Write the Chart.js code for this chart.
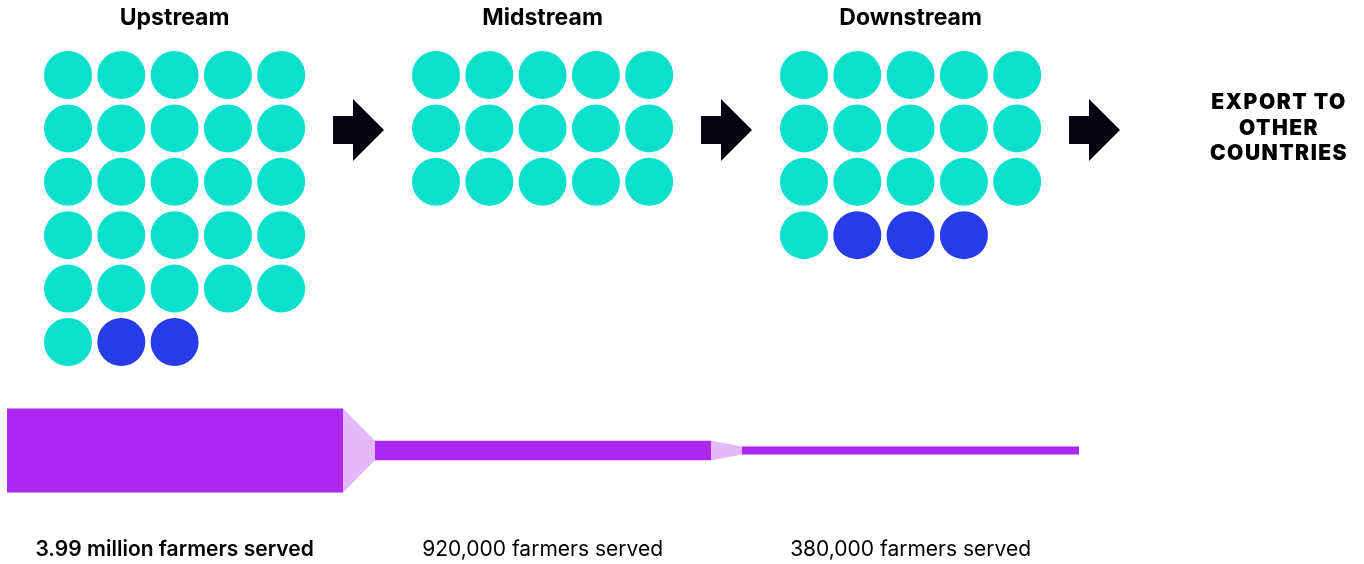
<!DOCTYPE html>
<html lang="en">
<head>
<meta charset="UTF-8">
<title>Farmers served along the value chain</title>
<script src="https://cdn.jsdelivr.net/npm/chart.js"></script>
<style>
  body { margin: 0; padding: 0; background: #fff; }
  #wrap { width: 1364px; height: 564px; }
</style>
</head>
<body>
<div id="wrap"><canvas id="flowChart" width="1364" height="564"></canvas></div>
<script>
// stages of the chain, dot counts per stage, farmers served (millions)
const stages = ['Upstream', 'Midstream', 'Downstream'];
const tealDots = [26, 15, 16];
const blueDots = [2, 0, 3];
const farmers = [3.99, 0.92, 0.38];
const farmerLabels = ['3.99 million farmers served', '920,000 farmers served', '380,000 farmers served'];
const exportLines = ['EXPORT TO', 'OTHER', 'COUNTRIES'];

const TEAL = '#0be0cc';
const BLUE = '#283be8';
const PURPLE = '#ac28f2';
const LILAC = '#e4b8fb';
const INK = '#05030f';

// layout (pixels)
const groupX = [68, 436, 804];
const colGap = 53.3, rowGap = 53.4, firstRow = 75, perRow = 5;
const barSpans = [[7, 343], [375, 711], [742, 1079]];
const flowCenter = 450.5, pxPerMillion = 21;

function dotPoints(g, from, to) {
  const pts = [];
  for (let i = from; i < to; i++) {
    pts.push({ x: groupX[g] + (i % perRow) * colGap, y: firstRow + Math.floor(i / perRow) * rowGap });
  }
  return pts;
}

const datasets = [];
stages.forEach((s, g) => {
  datasets.push({ label: s, data: dotPoints(g, 0, tealDots[g]), backgroundColor: TEAL });
  if (blueDots[g]) {
    datasets.push({ label: s + ' (other)', data: dotPoints(g, tealDots[g], tealDots[g] + blueDots[g]), backgroundColor: BLUE });
  }
});
datasets.forEach(d => Object.assign(d, { pointRadius: 24, pointHoverRadius: 24, borderWidth: 0, showLine: false }));

// flow band: each piece is a top edge filled down to its bottom edge
function band(x0, v0, x1, v1, color) {
  const base = { type: 'line', yAxisID: 'yFlow', showLine: true, pointRadius: 0, borderWidth: 0, tension: 0 };
  datasets.push(Object.assign({}, base, { data: [{ x: x0, y: v0 / 2 }, { x: x1, y: v1 / 2 }], fill: '+1', backgroundColor: color }));
  datasets.push(Object.assign({}, base, { data: [{ x: x0, y: -v0 / 2 }, { x: x1, y: -v1 / 2 }], fill: false }));
}
farmers.forEach((v, i) => {
  band(barSpans[i][0], v, barSpans[i][1], v, PURPLE);
  if (i < farmers.length - 1) band(barSpans[i][1], v, barSpans[i + 1][0], farmers[i + 1], LILAC);
});

const textLayer = {
  id: 'textLayer',
  afterDatasetsDraw(chart) {
    const ctx = chart.ctx;
    const xs = chart.scales.x, ys = chart.scales.y;
    const mid = g => groupX[g] + 2 * colGap;
    ctx.save();
    ctx.fillStyle = '#000';
    ctx.textAlign = 'center';
    ctx.textBaseline = 'middle';
    ctx.font = 'bold 23px Inter';
    stages.forEach((s, g) => ctx.fillText(s, xs.getPixelForValue(mid(g)), ys.getPixelForValue(18)));

    farmerLabels.forEach((t, g) => {
      ctx.font = (g === 0 ? '600 ' : '400 ') + '21px Inter';
      ctx.fillText(t, xs.getPixelForValue(mid(g)), ys.getPixelForValue(550));
    });

    ctx.font = '900 21px Inter';
    ctx.letterSpacing = '1.5px';
    exportLines.forEach((t, i) => ctx.fillText(t, xs.getPixelForValue(1279), ys.getPixelForValue(103 + i * 25.5)));
    ctx.letterSpacing = '0px';

    // arrows between stages
    ctx.fillStyle = INK;
    [333, 701, 1069].forEach(a => {
      const p = v => xs.getPixelForValue(a + v);
      ctx.beginPath();
      ctx.moveTo(p(0), ys.getPixelForValue(116));
      ctx.lineTo(p(20), ys.getPixelForValue(116));
      ctx.lineTo(p(20), ys.getPixelForValue(99));
      ctx.lineTo(p(51), ys.getPixelForValue(130));
      ctx.lineTo(p(20), ys.getPixelForValue(161));
      ctx.lineTo(p(20), ys.getPixelForValue(144));
      ctx.lineTo(p(0), ys.getPixelForValue(144));
      ctx.closePath();
      ctx.fill();
    });
    ctx.restore();
  }
};

new Chart(document.getElementById('flowChart'), {
  type: 'scatter',
  data: { datasets },
  options: {
    responsive: false,
    animation: false,
    layout: { padding: 0, autoPadding: false },
    scales: {
      x: { type: 'linear', min: 0, max: 1364, display: false },
      y: { type: 'linear', min: 0, max: 564, reverse: true, display: false },
      yFlow: {
        type: 'linear', display: false,
        min: -(564 - flowCenter) / pxPerMillion,
        max: flowCenter / pxPerMillion
      }
    },
    plugins: { legend: { display: false }, tooltip: { enabled: false } }
  },
  plugins: [textLayer]
});
</script>
</body>
</html>
